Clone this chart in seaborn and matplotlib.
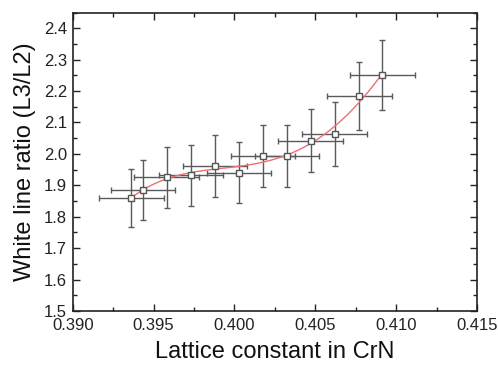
import matplotlib
matplotlib.use('Agg')
import matplotlib.pyplot as plt
import seaborn as sns
import pandas as pd
from matplotlib.ticker import MultipleLocator, FormatStrFormatter

# Data
lattice = [0.39362, 0.39434, 0.39581, 0.39731, 0.39879, 0.40028,
           0.40176, 0.40324, 0.40472, 0.40620, 0.40771, 0.40915]
ratio = [1.859, 1.886, 1.926, 1.932, 1.962, 1.940,
         1.993, 1.993, 2.042, 2.063, 2.184, 2.251]
ratio_err = [0.093, 0.095, 0.097, 0.097, 0.098, 0.097,
             0.100, 0.100, 0.100, 0.103, 0.108, 0.112]
lattice_err = [0.002] * 12

df = pd.DataFrame({'a': lattice, 'r': ratio})

sns.set_style("ticks")
plt.rcParams['font.family'] = ['Liberation Sans', 'DejaVu Sans']

fig = plt.figure(figsize=(4.98, 3.68), dpi=100)
ax = fig.add_axes([0.146, 0.155, 0.812, 0.811])

ax.errorbar(lattice, ratio, xerr=lattice_err, yerr=ratio_err, fmt='none',
            ecolor='#5a5a5a', elinewidth=1.0, capsize=2, capthick=1.0, zorder=2)

# polynomial fit drawn by seaborn
sns.regplot(data=df, x='a', y='r', order=5, ci=None, scatter=False,
            line_kws={'color': '#f07070', 'linewidth': 1.0}, ax=ax)

ax.plot(lattice, ratio, linestyle='none', marker='s', markersize=5,
        markerfacecolor='white', markeredgecolor='#555555',
        markeredgewidth=1.0, zorder=4)

ax.set_xlim(0.390, 0.415)
ax.set_ylim(1.5, 2.45)
ax.xaxis.set_major_locator(MultipleLocator(0.005))
ax.xaxis.set_minor_locator(MultipleLocator(0.0025))
ax.yaxis.set_major_locator(MultipleLocator(0.1))
ax.yaxis.set_minor_locator(MultipleLocator(0.05))
ax.xaxis.set_major_formatter(FormatStrFormatter('%.3f'))
ax.yaxis.set_major_formatter(FormatStrFormatter('%.1f'))

ax.tick_params(which='both', direction='in', top=True, right=True,
               labeltop=False, labelright=False, color='#222222', width=1.0)
ax.tick_params(which='major', length=5, labelsize=12, labelcolor='#222222')
ax.tick_params(axis='x', which='major', pad=5)
ax.tick_params(axis='y', which='major', pad=4)
ax.tick_params(which='minor', length=3)
for s in ax.spines.values():
    s.set_linewidth(1.2)
    s.set_color('#222222')

ax.set_xlabel('Lattice constant in CrN', fontsize=17, labelpad=6, color='#111111')
ax.set_ylabel('White line ratio (L3/L2)', fontsize=17, labelpad=6, color='#111111')

fig.savefig('out.png', dpi=100, facecolor='white')
